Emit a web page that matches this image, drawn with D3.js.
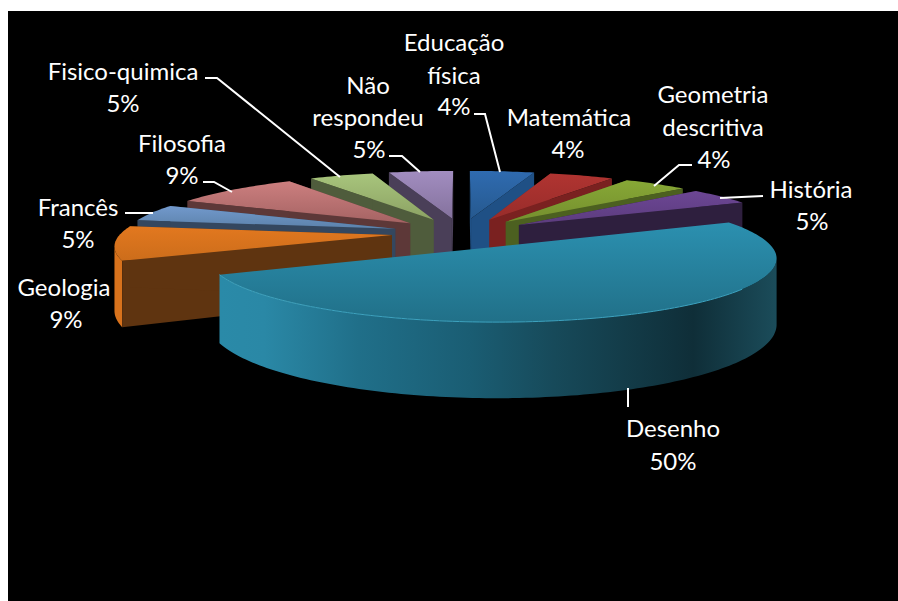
<!DOCTYPE html>
<html>
<head>
<meta charset="utf-8">
<script src="https://cdn.jsdelivr.net/npm/d3@7"></script>
<style>
html, body { margin: 0; background: #fff; overflow: hidden; }
text { font-family: Lato, "Open Sans", sans-serif; font-size: 24px; fill: #fff; text-anchor: middle; }
</style>
</head>
<body>
<div id="vis"></div>
<script>
// data
var categories = ["Educação física", "Matemática", "Geometria descritiva", "História", "Desenho",
    "Geologia", "Francês", "Filosofia", "Fisico-quimica", "Não respondeu"];
var percents = [4.5, 4.5, 4.5, 4.5, 50, 9, 4.5, 9, 4.5, 4.5];

// slice colours: top of the face, bottom of the face, side wall
var top_light = ["#2f6bb0", "#b03431", "#87a836", "#6c4694", "#2b90b0", "#e2781f", "#7299cc", "#cc7f7f", "#a8c57c", "#a28dc0"];
var top_dark = ["#26598f", "#982c2a", "#758f2e", "#5c3c7e", "#217088", "#cc6d1b", "#5c82ab", "#a56363", "#8ca264", "#84729d"];
var wall_col = ["#1f5085", "#7a2120", "#4c6020", "#2e1f3e", "#1b6c86", "#d8721c", "#34475f", "#5d3838", "#4f5c3c", "#4a3f58"];
var cut_col = ["#1f5085", "#7a2120", "#4c6020", "#2e1f3e", "#1b6c86", "#5f3410", "#34475f", "#5d3838", "#4f5c3c", "#4a3f58"];

// shading of the big slice's round wall, left to right
var shade_offsets = [0, 0.08, 0.25, 0.45, 0.6, 0.85, 1];
var shade_colors = ["#2a8aa8", "#2a88a6", "#206f89", "#1a5d73", "#174a5a", "#0f2e38", "#1b4c5a"];

// label text lines, middle x and baseline of each line
var label_lines = [["Educação", "física", "4%"], ["Matemática", "4%"], ["Geometria", "descritiva", "4%"], ["História", "5%"],
    ["Desenho", "50%"], ["Geologia", "9%"], ["Francês", "5%"], ["Filosofia", "9%"], ["Fisico-quimica", "5%"], ["Não", "respondeu", "5%"]];
var label_x = [[454, 454, 454], [569, 568], [713, 713, 714], [811, 812], [673, 673], [64, 66], [78, 78], [182, 182], [123, 123], [368, 368, 369]];
var label_y = [[51, 84, 115], [126, 158], [103, 136, 168], [198, 230], [437, 470], [296, 328], [216, 248], [152, 184], [80, 112], [94, 126, 158]];
var leaders = [
    [[474, 114], [485, 114], [500, 172]],
    null,
    [[692, 165], [679, 165], [654, 186]],
    [[763, 196], [720, 198]],
    [[628, 407], [628, 388]],
    null,
    [[125, 213], [153, 213]],
    [[203, 182], [214, 182], [232, 192]],
    [[205, 78], [217, 78], [340, 177]],
    [[389, 156], [402, 156], [420, 172]]
];

var width = 898, height = 601;
var cx = 461.5, cy = 233, rad_x = 271, rad_y = 58.8, persp = 0.15, explode = 0.258, depth = 62;

function project(X, Y, z) {
    var den = 1 - persp * Y;
    return [cx + rad_x * X / den, cy + rad_y * Y / den + z * depth / den];
}

var svg = d3.select("#vis").append("svg").attr("width", width).attr("height", height);
svg.append("rect").attr("x", 8).attr("y", 11).attr("width", width - 8).attr("height", height - 11).attr("fill", "#000");

var defs = svg.append("defs");
var line = d3.line();
var pie = d3.pie().sort(null).value(function(d) { return d; }).startAngle(0).endAngle(2 * Math.PI);
var arcs = pie(percents);

arcs.forEach(function(d, i) {
    var grad = defs.append("linearGradient").attr("id", "top" + i).attr("x1", 0).attr("y1", 0).attr("x2", 0).attr("y2", 1);
    grad.append("stop").attr("offset", "0%").attr("stop-color", top_light[i]);
    grad.append("stop").attr("offset", "100%").attr("stop-color", top_dark[i]);
    d.index = i;
    d.mid = (d.startAngle + d.endAngle) / 2;
    d.ox = explode * Math.sin(d.mid);
    d.oy = -explode * Math.cos(d.mid);
});

var shade = defs.append("linearGradient").attr("id", "shade").attr("x1", 0).attr("y1", 0).attr("x2", 1).attr("y2", 0);
shade_offsets.forEach(function(o, k) {
    shade.append("stop").attr("offset", o).attr("stop-color", shade_colors[k]);
});

function point(d, a, r, z) {
    return project(d.ox + r * Math.sin(a), d.oy - r * Math.cos(a), z);
}

function arc_angles(d) {
    var n = Math.max(2, Math.ceil((d.endAngle - d.startAngle) / 0.02));
    return d3.range(n + 1).map(function(k) { return d.startAngle + (d.endAngle - d.startAngle) * k / n; });
}

// back to front
var order = arcs.slice().sort(function(a, b) { return Math.cos(b.mid) - Math.cos(a.mid); });

order.forEach(function(d) {
    var g = svg.append("g");
    var i = d.index;
    var angles = arc_angles(d);
    var upper = angles.map(function(a) { return point(d, a, 1, 0); });

    // round wall: only the part that faces us, x runs right to left there
    var front = angles.filter(function(a, k) {
        return (k < angles.length - 1 && upper[k + 1][0] < upper[k][0]) || (k > 0 && upper[k][0] < upper[k - 1][0]);
    });
    if (front.length > 1) {
        var wall_top = front.map(function(a) { return point(d, a, 1, 0); });
        var wall_bottom = front.slice().reverse().map(function(a) { return point(d, a, 1, 1); });
        g.append("path")
            .attr("d", line(wall_top.concat(wall_bottom)) + "Z")
            .attr("fill", i === 4 ? "url(#shade)" : wall_col[i]);
    }

    // the big slice turns its cut side away from us
    if (i !== 4) {
        [d.startAngle, d.endAngle].forEach(function(a) {
            g.append("path")
                .attr("d", line([point(d, a, 0, 0), point(d, a, 1, 0), point(d, a, 1, 1), point(d, a, 0, 1)]) + "Z")
                .attr("fill", cut_col[i]);
        });
    }

    var face = [point(d, 0, 0, 0)].concat(upper);
    g.append("path").attr("d", line(face) + "Z").attr("fill", "url(#top" + i + ")");

    if (i === 4) {
        var edge = angles.filter(function(a) { return a > 2.2; }).map(function(a) { return point(d, a, 1, 0); });
        g.append("path").attr("d", line(edge)).attr("fill", "none").attr("stroke", "#3da3c0").attr("stroke-width", 1);
    }
});

leaders.forEach(function(pts) {
    if (!pts) return;
    svg.append("path").attr("d", line(pts)).attr("fill", "none").attr("stroke", "#fff").attr("stroke-width", 2);
});

label_lines.forEach(function(lines, i) {
    lines.forEach(function(s, k) {
        svg.append("text")
            .attr("x", label_x[i][k])
            .attr("y", label_y[i][k])
            .text(s);
    });
});
</script>
</body>
</html>
